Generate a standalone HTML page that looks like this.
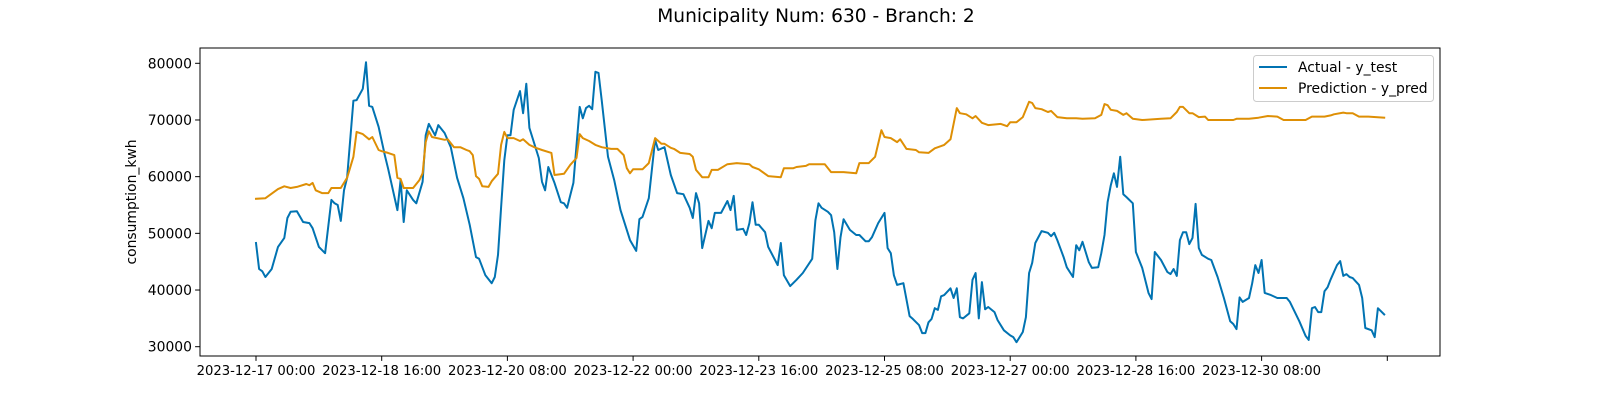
<!DOCTYPE html>
<html><head><meta charset="utf-8"><style>
html,body{margin:0;padding:0;background:#fff;}
svg text{font-family:"DejaVu Sans","Liberation Sans",sans-serif;fill:#000;}
</style></head><body>
<svg id="chart" width="1600" height="400" xmlns="http://www.w3.org/2000/svg">
<rect width="1600" height="400" fill="#fff"/>
<text x="816" y="22" font-size="18.6" text-anchor="middle">Municipality Num: 630 - Branch: 2</text>
<g id="plot"></g>
</svg>
<script>
const tickHours=[0,40,80,120,160,200,240,280,320,360];
const tickLabels=["2023-12-17 00:00","2023-12-18 16:00","2023-12-20 08:00","2023-12-22 00:00","2023-12-23 16:00","2023-12-25 08:00","2023-12-27 00:00","2023-12-28 16:00","2023-12-30 08:00",""];
const yTicks=[30000,40000,50000,60000,70000,80000];
const actualHours=[0,1,2,3,5,7,9,10,11,13,15,17,18,20,22,24,25,26,27,28,29,31,32,34,35,36,37,39,41,42,45,46,47,48,50,51,53,54,55,57,58,60,62,64,66,68,70,71,73,75,76,77,78,79,80,81,82,84,85,86,87,90,91,92,93,95,97,98,99,101,103,104,105,106,107,108,109,110,112,114,116,119,121,122,123,125,127,128,130,132,134,136,138,139,140,141,142,144,145,146,148,150,151,152,153,155,156,157,158,159,160,162,163,166,167,168,170,172,174,177,178,179,180,182,183,184,185,186,187,189,191,192,194,195,196,198,200,201,202,203,204,206,208,209,211,212,213,214,215,216,217,218,219,221,222,223,224,225,227,228,229,230,231,232,233,235,236,238,240,241,242,244,245,246,247,248,250,252,253,254,255,257,258,260,261,262,263,265,266,268,269,270,271,272,273,274,275,276,277,279,280,282,284,285,286,288,290,291,292,293,294,295,296,297,298,299,300,301,303,304,306,308,310,311,312,313,314,316,317,318,319,320,321,323,325,328,329,332,334,335,336,337,338,339,340,341,342,344,345,346,347,348,349,351,352,353,355,356,357,359];
const actualValues=[48300,43700,43300,42300,43700,47600,49200,52700,53800,53900,52000,51800,50900,47600,46500,55900,55300,55000,52200,57600,59800,73400,73500,75500,80200,72500,72300,68800,63800,61500,54100,59400,52000,57600,55900,55300,59100,67300,69300,67300,69100,67700,65200,59800,56200,51500,45800,45500,42600,41200,42300,46200,54600,62900,67300,67300,71800,75100,71200,76400,68600,63300,59100,57600,61700,58900,55500,55300,54500,58900,72300,70300,72100,72500,71900,78500,78300,73500,63500,59400,54100,48800,46900,52500,52900,56200,66500,64700,65200,60300,57100,56900,54500,52700,57100,55300,47400,52200,50900,53600,53600,55700,54100,56600,50600,50800,49700,51800,55500,51500,51500,50200,47600,44400,48300,42600,40700,41800,43000,45500,52300,55300,54500,53800,53200,50200,43700,49300,52500,50600,49700,49700,48600,48600,49300,51800,53600,47400,46500,42600,40900,41200,35400,34900,33800,32400,32400,34300,34900,36800,36500,38900,39100,40300,38600,40300,35200,35000,35900,41800,43000,35000,41400,36600,37000,36100,34700,32900,32000,31700,30800,32600,35200,43000,44800,48300,50400,50100,49500,50100,48800,45800,44000,42300,47900,47000,48500,44900,43900,44000,46500,49700,55500,58500,60600,58200,63500,56900,56400,55300,46700,43900,39500,38400,46700,45300,43200,42800,43700,42500,48800,50200,50200,48100,49200,55200,47400,46200,45500,45300,42300,38600,34500,34000,33100,38700,37900,38600,41200,44400,43000,45300,39500,39100,38600,38600,37900,34500,31900,31200,36800,37000,36100,36100,39800,40500,41900,44400,45100,42500,42800,42300,42100,40900,38600,33300,32900,31700,36800,35700];
const predHours=[0,3,7,9,11,13,16,17,18,19,21,23,24,27,29,31,32,34,36,37,39,40,42,44,45,46,47,50,52,53,54,55,56,60,61,63,65,67,68,69,70,71,72,74,75,77,78,79,80,82,84,85,87,89,91,94,95,98,100,102,103,104,106,108,110,113,115,117,118,119,120,123,125,127,129,130,132,133,135,138,139,140,142,144,145,147,150,153,157,158,160,163,167,168,171,172,175,176,179,181,183,187,191,192,195,197,199,200,202,204,205,207,210,211,214,216,218,219,221,223,224,226,228,229,231,233,237,239,240,242,244,246,247,248,250,252,253,255,258,261,263,267,269,270,271,272,274,276,277,279,282,288,291,293,294,295,297,298,300,302,303,311,312,316,319,322,325,327,334,336,340,342,343,346,347,349,351,354,359];
const predValues=[56100,56200,57800,58300,58000,58200,58700,58500,58900,57600,57100,57100,58000,58000,59800,63500,67900,67500,66600,67000,64700,64500,64200,63800,59800,59600,58000,58000,59400,60600,66100,68000,67000,66500,66600,65200,65200,64700,64500,63800,60100,59600,58300,58200,59200,60500,65600,67900,66800,66800,66300,66600,65600,65100,64700,64200,60300,60500,62100,63300,67500,66800,66300,65600,65200,64900,64900,63800,61500,60600,61300,61300,62400,66800,65800,65800,65100,64900,64200,64000,63500,61200,59900,59900,61200,61200,62200,62400,62200,61700,61300,60100,59900,61500,61500,61700,61900,62200,62200,62200,60800,60800,60600,62400,62400,63500,68200,67000,66800,66100,66600,64900,64700,64300,64200,65000,65400,65600,66600,72100,71200,71000,70300,70700,69500,69100,69300,68900,69600,69600,70500,73200,73000,72100,71900,71400,71600,70500,70300,70300,70200,70300,70900,72800,72600,71800,71600,70900,71200,70200,70000,70200,70300,71400,72300,72300,71200,71200,70500,70600,70000,70000,70200,70200,70400,70700,70600,70000,70000,70600,70600,70800,71000,71300,71200,71200,70600,70600,70400];

const NS="http://www.w3.org/2000/svg";
const L=200,R=1440,T=48,B=356;
function xs(h){return 256+h*(1387.3-256)/360;}
function ys(v){return 63.3+(80000-v)*(346.7-63.3)/50000;}
const g=document.getElementById('plot');
function mk(tag,attrs){const e=document.createElementNS(NS,tag);for(const k in attrs)e.setAttribute(k,attrs[k]);g.appendChild(e);return e;}

function line(hours,vals,color,name){
  let d='';
  for(let i=0;i<hours.length;i++){d+=(i?'L':'M')+xs(hours[i]).toFixed(1)+','+ys(vals[i]).toFixed(1);}
  const p=mk('path',{d:d,fill:'none',stroke:color,'stroke-width':2,'stroke-linejoin':'round','stroke-linecap':'square'});
  
  
}
line(actualHours,actualValues,'#0173b2','actual-line');
line(predHours,predValues,'#de8f05','prediction-line');

const fr=mk('rect',{x:L,y:T,width:R-L,height:B-T,fill:'none',stroke:'#000','stroke-width':1});



for(let i=0;i<tickHours.length;i++){
  const x=xs(tickHours[i]);
  const t=mk('line',{x1:x,x2:x,y1:B,y2:B+4.9,stroke:'#000','stroke-width':1});
  
  
  if(tickLabels[i]){
    const tx=mk('text',{x:x,y:B+19,'font-size':13.2,'text-anchor':'middle'});
    tx.textContent=tickLabels[i];
    
    
  }
}
for(let i=0;i<yTicks.length;i++){
  const y=ys(yTicks[i]);
  const t=mk('line',{x1:L-4.9,x2:L,y1:y,y2:y,stroke:'#000','stroke-width':1});
  
  
  const tx=mk('text',{x:L-8,y:y+5,'font-size':13.9,'text-anchor':'end'});
  tx.textContent=yTicks[i];
  
  
}
const yl=mk('text',{x:0,y:0,'font-size':13.9,'text-anchor':'middle',transform:'translate(136,202) rotate(-90)'});
yl.textContent='consumption_kwh';



const lg=mk('rect',{x:1253.5,y:55.5,width:180,height:46,rx:3,fill:'#fff','fill-opacity':0.8,stroke:'#ccc','stroke-width':1});


const entries=[['Actual - y_test','#0173b2',67],['Prediction - y_pred','#de8f05',88]];
for(const [label,color,y] of entries){
  const l=mk('line',{x1:1259,x2:1287,y1:y,y2:y,stroke:color,'stroke-width':2});
  
  
  const tx=mk('text',{x:1298,y:y+5,'font-size':13.9});
  tx.textContent=label;
  
  
}
</script>
</body></html>
